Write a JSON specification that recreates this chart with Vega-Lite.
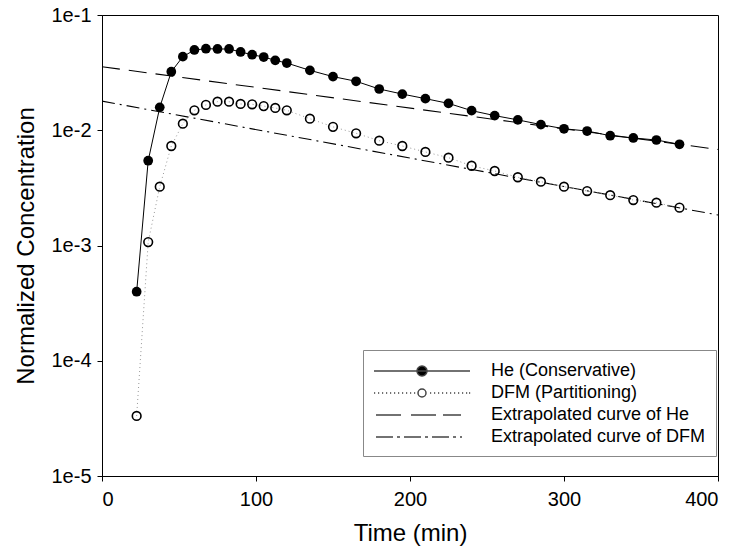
{
  "$schema": "https://vega.github.io/schema/vega-lite/v6.json",
  "width": 616,
  "height": 461,
  "autosize": {"type": "none"},
  "padding": {"left": 102, "top": 15, "right": 21, "bottom": 80},
  "config": {
    "font": "Liberation Sans",
    "view": {"stroke": "black", "strokeWidth": 1},
    "axis": {
      "grid": false,
      "domainColor": "black",
      "tickColor": "black",
      "labelColor": "black",
      "titleColor": "black",
      "labelFontSize": 20,
      "titleFontSize": 24,
      "titleFontWeight": "normal",
      "tickSize": 5
    }
  },
  "datasets": {
    "obs": [
      {"t": 22.5, "c": 0.000397, "series": "He (Conservative)"},
      {"t": 30, "c": 0.00544, "series": "He (Conservative)"},
      {"t": 37.5, "c": 0.0158, "series": "He (Conservative)"},
      {"t": 45, "c": 0.0322, "series": "He (Conservative)"},
      {"t": 52.5, "c": 0.0435, "series": "He (Conservative)"},
      {"t": 60, "c": 0.0497, "series": "He (Conservative)"},
      {"t": 67.5, "c": 0.0510, "series": "He (Conservative)"},
      {"t": 75, "c": 0.0507, "series": "He (Conservative)"},
      {"t": 82.5, "c": 0.0507, "series": "He (Conservative)"},
      {"t": 90, "c": 0.0478, "series": "He (Conservative)"},
      {"t": 97.5, "c": 0.0452, "series": "He (Conservative)"},
      {"t": 105, "c": 0.0432, "series": "He (Conservative)"},
      {"t": 112.5, "c": 0.0404, "series": "He (Conservative)"},
      {"t": 120, "c": 0.0383, "series": "He (Conservative)"},
      {"t": 135, "c": 0.0331, "series": "He (Conservative)"},
      {"t": 150, "c": 0.0292, "series": "He (Conservative)"},
      {"t": 165, "c": 0.0266, "series": "He (Conservative)"},
      {"t": 180, "c": 0.0228, "series": "He (Conservative)"},
      {"t": 195, "c": 0.0206, "series": "He (Conservative)"},
      {"t": 210, "c": 0.0188, "series": "He (Conservative)"},
      {"t": 225, "c": 0.0171, "series": "He (Conservative)"},
      {"t": 240, "c": 0.0148, "series": "He (Conservative)"},
      {"t": 255, "c": 0.0134, "series": "He (Conservative)"},
      {"t": 270, "c": 0.0123, "series": "He (Conservative)"},
      {"t": 285, "c": 0.0112, "series": "He (Conservative)"},
      {"t": 300, "c": 0.0103, "series": "He (Conservative)"},
      {"t": 315, "c": 0.00985, "series": "He (Conservative)"},
      {"t": 330, "c": 0.00897, "series": "He (Conservative)"},
      {"t": 345, "c": 0.00857, "series": "He (Conservative)"},
      {"t": 360, "c": 0.00823, "series": "He (Conservative)"},
      {"t": 375, "c": 0.00755, "series": "He (Conservative)"},
      {"t": 22.5, "c": 0.0000332, "series": "DFM (Partitioning)"},
      {"t": 30, "c": 0.00107, "series": "DFM (Partitioning)"},
      {"t": 37.5, "c": 0.00324, "series": "DFM (Partitioning)"},
      {"t": 45, "c": 0.0073, "series": "DFM (Partitioning)"},
      {"t": 52.5, "c": 0.0114, "series": "DFM (Partitioning)"},
      {"t": 60, "c": 0.0149, "series": "DFM (Partitioning)"},
      {"t": 67.5, "c": 0.0166, "series": "DFM (Partitioning)"},
      {"t": 75, "c": 0.0177, "series": "DFM (Partitioning)"},
      {"t": 82.5, "c": 0.0177, "series": "DFM (Partitioning)"},
      {"t": 90, "c": 0.0169, "series": "DFM (Partitioning)"},
      {"t": 97.5, "c": 0.0168, "series": "DFM (Partitioning)"},
      {"t": 105, "c": 0.0162, "series": "DFM (Partitioning)"},
      {"t": 112.5, "c": 0.0156, "series": "DFM (Partitioning)"},
      {"t": 120, "c": 0.0149, "series": "DFM (Partitioning)"},
      {"t": 135, "c": 0.0126, "series": "DFM (Partitioning)"},
      {"t": 150, "c": 0.0107, "series": "DFM (Partitioning)"},
      {"t": 165, "c": 0.00941, "series": "DFM (Partitioning)"},
      {"t": 180, "c": 0.00812, "series": "DFM (Partitioning)"},
      {"t": 195, "c": 0.0073, "series": "DFM (Partitioning)"},
      {"t": 210, "c": 0.00648, "series": "DFM (Partitioning)"},
      {"t": 225, "c": 0.00578, "series": "DFM (Partitioning)"},
      {"t": 240, "c": 0.00492, "series": "DFM (Partitioning)"},
      {"t": 255, "c": 0.00443, "series": "DFM (Partitioning)"},
      {"t": 270, "c": 0.00391, "series": "DFM (Partitioning)"},
      {"t": 285, "c": 0.00358, "series": "DFM (Partitioning)"},
      {"t": 300, "c": 0.00324, "series": "DFM (Partitioning)"},
      {"t": 315, "c": 0.00297, "series": "DFM (Partitioning)"},
      {"t": 330, "c": 0.00273, "series": "DFM (Partitioning)"},
      {"t": 345, "c": 0.00248, "series": "DFM (Partitioning)"},
      {"t": 360, "c": 0.00235, "series": "DFM (Partitioning)"},
      {"t": 375, "c": 0.00213, "series": "DFM (Partitioning)"}
    ],
    "extrap": [
      {"t": 0, "c": 0.0356, "series": "Extrapolated curve of He"},
      {"t": 400, "c": 0.00681, "series": "Extrapolated curve of He"},
      {"t": 0, "c": 0.0179, "series": "Extrapolated curve of DFM"},
      {"t": 400, "c": 0.00184, "series": "Extrapolated curve of DFM"}
    ]
  },
  "encoding": {
    "x": {
      "field": "t",
      "type": "quantitative",
      "scale": {"domain": [0, 400], "nice": false},
      "axis": {"title": "Time (min)", "values": [0, 100, 200, 300, 400], "format": "d", "labelPadding": 8, "titlePadding": 12}
    },
    "y": {
      "field": "c",
      "type": "quantitative",
      "scale": {"type": "log", "domain": [0.00001, 0.1], "nice": false},
      "axis": {
        "title": "Normalized Concentration",
        "values": [0.00001, 0.0001, 0.001, 0.01, 0.1],
        "labelExpr": "'1e' + round(log(datum.value)/LN10)",
        "labelPadding": 6,
        "titlePadding": 12
      }
    }
  },
  "layer": [
    {
      "data": {"name": "extrap"},
      "mark": {"type": "line", "color": "black", "strokeWidth": 1.1, "clip": true},
      "encoding": {
        "strokeDash": {
          "field": "series",
          "type": "nominal",
          "scale": {"domain": ["Extrapolated curve of He", "Extrapolated curve of DFM"], "range": [[18, 9], [13, 5, 2, 5]]},
          "legend": null
        }
      }
    },
    {
      "data": {"name": "obs"},
      "transform": [{"filter": "datum.series === 'He (Conservative)'"}],
      "mark": {"type": "line", "color": "black", "strokeWidth": 1}
    },
    {
      "data": {"name": "obs"},
      "transform": [{"filter": "datum.series === 'DFM (Partitioning)'"}],
      "mark": {"type": "line", "color": "#999999", "strokeWidth": 1, "strokeDash": [1, 3]}
    },
    {
      "data": {"name": "obs"},
      "transform": [{"filter": "datum.series === 'He (Conservative)'"}],
      "mark": {"type": "point", "shape": "circle", "filled": true, "color": "black", "size": 95, "opacity": 1}
    },
    {
      "data": {"name": "obs"},
      "transform": [{"filter": "datum.series === 'DFM (Partitioning)'"}],
      "mark": {"type": "point", "shape": "circle", "filled": false, "color": "black", "strokeWidth": 1.6, "size": 75, "opacity": 1}
    },
    {
      "data": {"name": "obs"},
      "mark": {"type": "point", "filled": true, "opacity": 0},
      "encoding": {
        "shape": {
          "field": "series",
          "type": "nominal",
          "scale": {
            "domain": ["He (Conservative)", "DFM (Partitioning)", "Extrapolated curve of He", "Extrapolated curve of DFM"],
            "range": [
              "M-1,0H8.6M3.3,0A0.5,0.5,0,1,0,4.3,0A0.5,0.5,0,1,0,3.3,0Z",
              "M-1,0h0.12M-0.6,0h0.12M-0.2,0h0.12M0.2,0h0.12M0.6,0h0.12M1,0h0.12M1.4,0h0.12M1.8,0h0.12M2.2,0h0.12M2.6,0h0.12M3,0h0.12M3.4,0A0.4,0.4,0,1,0,4.2,0A0.4,0.4,0,1,0,3.4,0ZM4.6,0h0.12M5,0h0.12M5.4,0h0.12M5.8,0h0.12M6.2,0h0.12M6.6,0h0.12M7,0h0.12M7.4,0h0.12M7.8,0h0.12M8.2,0h0.12M8.5,0h0.12",
              "M-0.8,0H1.7M2.7,0H5.2M5.9,0H7.7",
              "M-0.8,0H0.9M1.3,0H1.6M2,0H3.7M4.1,0H4.4M4.8,0H6.5M6.9,0H7.2M7.6,0H7.8"
            ]
          },
          "legend": {
            "title": null,
            "orient": "none",
            "legendX": 261,
            "legendY": 335,
            "symbolSize": 400,
            "symbolStrokeWidth": 1.5,
            "symbolOpacity": 1,
            "labelFontSize": 18,
            "labelColor": "black",
            "labelLimit": 0,
            "labelOffset": 96,
            "padding": 10,
            "rowPadding": 2,
            "strokeColor": "#888888",
            "fillColor": "white"
          }
        },
        "fill": {
          "field": "series",
          "type": "nominal",
          "scale": {
            "domain": ["He (Conservative)", "DFM (Partitioning)", "Extrapolated curve of He", "Extrapolated curve of DFM"],
            "range": ["black", "white", "black", "black"]
          },
          "legend": {"title": null}
        },
        "stroke": {
          "field": "series",
          "type": "nominal",
          "scale": {
            "domain": ["He (Conservative)", "DFM (Partitioning)", "Extrapolated curve of He", "Extrapolated curve of DFM"],
            "range": ["#444444", "#444444", "#444444", "#444444"]
          },
          "legend": {"title": null}
        }
      }
    }
  ]
}
